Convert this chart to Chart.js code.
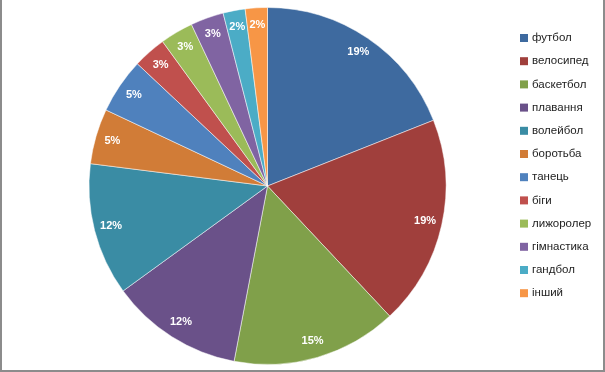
<!DOCTYPE html>
<html>
<head>
<meta charset="utf-8">
<script src="https://cdn.jsdelivr.net/npm/chart.js@4/dist/chart.umd.min.js"></script>
<style>
  html, body { margin: 0; padding: 0; background: #fff; }
  #wrap {
    position: relative; width: 605px; height: 372px; box-sizing: border-box;
    border-left: 2px solid #8c8c8c; border-right: 2px solid #8c8c8c; border-bottom: 2px solid #8c8c8c;
  }
  canvas { position: absolute; left: -2px; top: 0; }
</style>
</head>
<body>
<div id="wrap"><canvas id="pie" width="605" height="372"></canvas></div>
<script>
// sports and their share (percent)
const sports = ['футбол', 'велосипед', 'баскетбол', 'плавання', 'волейбол', 'боротьба',
                'танець', 'біги', 'лижоролер', 'гімнастика', 'гандбол', 'інший'];
const shares = [19, 19, 15, 12, 12, 5, 5, 3, 3, 3, 2, 2];
const colors = ['#3e6a9f', '#a03f3c', '#80a04a', '#6a5189', '#3a8ca4', '#d17c37',
                '#4f81bd', '#c0504d', '#9bbb59', '#8064a2', '#4bacc6', '#f79646'];

// percent labels inside each slice, near the outer edge
const sliceLabels = {
    id: 'sliceLabels',
    afterDatasetsDraw(chart) {
        const ctx = chart.ctx;
        const meta = chart.getDatasetMeta(0);
        ctx.save();
        ctx.fillStyle = '#fff';
        ctx.font = 'bold 11px "Liberation Sans", Arial, sans-serif';
        ctx.textAlign = 'center';
        ctx.textBaseline = 'middle';
        meta.data.forEach((arc, i) => {
            const mid = (arc.startAngle + arc.endAngle) / 2;
            const r = arc.outerRadius - 17;
            ctx.fillText(shares[i] + '%', arc.x + Math.cos(mid) * r, arc.y + Math.sin(mid) * r);
        });
        ctx.restore();
    }
};

// legend on the right, one row per sport
const sideLegend = {
    id: 'sideLegend',
    afterDraw(chart) {
        const ctx = chart.ctx;
        ctx.save();
        ctx.font = '11.5px "Liberation Sans", Arial, sans-serif';
        ctx.textBaseline = 'middle';
        sports.forEach((name, i) => {
            const y = 38 + i * 23.2;
            ctx.fillStyle = colors[i];
            ctx.fillRect(520, y - 4, 8, 8);
            ctx.fillStyle = '#222';
            ctx.fillText(name, 532, y);
        });
        ctx.restore();
    }
};

new Chart(document.getElementById('pie'), {
    type: 'pie',
    data: {
        labels: sports,
        datasets: [{
            data: shares,
            backgroundColor: colors,
            borderColor: 'rgba(255,255,255,0.5)',
            borderWidth: 1,
            hoverOffset: 0
        }]
    },
    options: {
        responsive: false,
        animation: false,
        layout: { padding: { left: 88, right: 158, top: 7, bottom: 7 } },
        plugins: { legend: { display: false }, tooltip: { enabled: false } }
    },
    plugins: [sliceLabels, sideLegend]
});
</script>
</body>
</html>
